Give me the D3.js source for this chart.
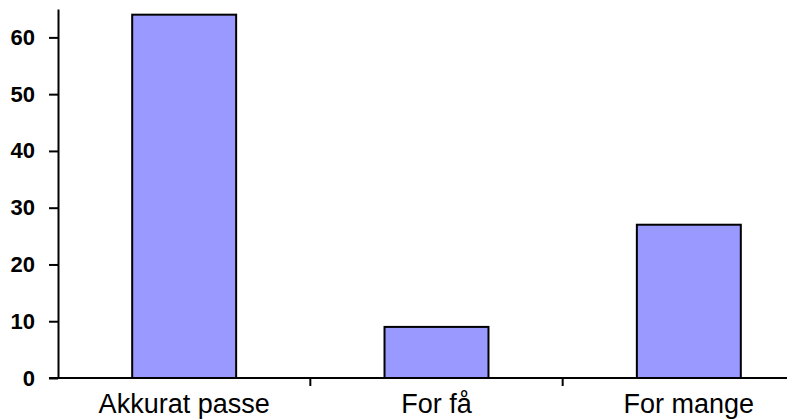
<!DOCTYPE html>
<html><head><meta charset="utf-8">
<script src="https://cdn.jsdelivr.net/npm/d3@7"></script>
<style>html,body{margin:0;padding:0;background:#fff;}</style>
</head><body>
<svg id="c" width="787" height="419"></svg>
<script>
const categories = ["Akkurat passe", "For få", "For mange"];
const values = [64, 9, 27];
const yTicks = [0, 10, 20, 30, 40, 50, 60];

const svg = d3.select("#c");
const x0 = 58, yBase = 378, yTop = 9;
const x = d3.scaleBand().domain(categories).range([x0, 815]).padding(0);
const y = d3.scaleLinear().domain([0, 65]).range([yBase, yTop]);
const barFrac = 0.412;

svg.selectAll("rect.bar").data(values).enter().append("rect")
  .attr("class", "bar")
  .attr("x", (d, i) => x(categories[i]) + x.bandwidth() * (1 - barFrac) / 2)
  .attr("width", x.bandwidth() * barFrac)
  .attr("y", d => y(d))
  .attr("height", d => yBase - y(d))
  .attr("fill", "#9999ff")
  .attr("stroke", "#000")
  .attr("stroke-width", 2);

// y axis
const yAxis = d3.axisLeft(y).tickValues(yTicks).tickSize(9).tickPadding(14).tickSizeOuter(0);
const gy = svg.append("g").attr("transform", `translate(${x0},0)`).call(yAxis);
gy.select(".domain").attr("stroke", "#000").attr("stroke-width", 2);
gy.selectAll(".tick line").attr("stroke", "#000").attr("stroke-width", 2);
gy.selectAll(".tick text").attr("font-family", "Liberation Sans, Arial, sans-serif")
  .attr("font-weight", "bold").attr("font-size", 22).attr("fill", "#000");

// x axis
const xAxis = d3.axisBottom(x).tickSize(0).tickPadding(16).tickSizeOuter(0);
const gx = svg.append("g").attr("transform", `translate(0,${yBase})`).call(xAxis);
gx.select(".domain").remove();
gx.append("line").attr("x1", 49).attr("x2", 787).attr("y1", 0).attr("y2", 0)
  .attr("stroke", "#000").attr("stroke-width", 2);
gx.selectAll(".tick text").attr("font-family", "Liberation Sans, Arial, sans-serif")
  .attr("font-size", 27).attr("fill", "#000");
// category separators
const seps = categories.map(c => x(c)).concat([x(categories[2]) + x.bandwidth()]);
gx.selectAll("line.sep").data(seps.filter(v => v > x0 && v < 787)).enter().append("line")
  .attr("class", "sep").attr("x1", d => d).attr("x2", d => d).attr("y1", 0).attr("y2", 8)
  .attr("stroke", "#000").attr("stroke-width", 2);
</script>
</body></html>
